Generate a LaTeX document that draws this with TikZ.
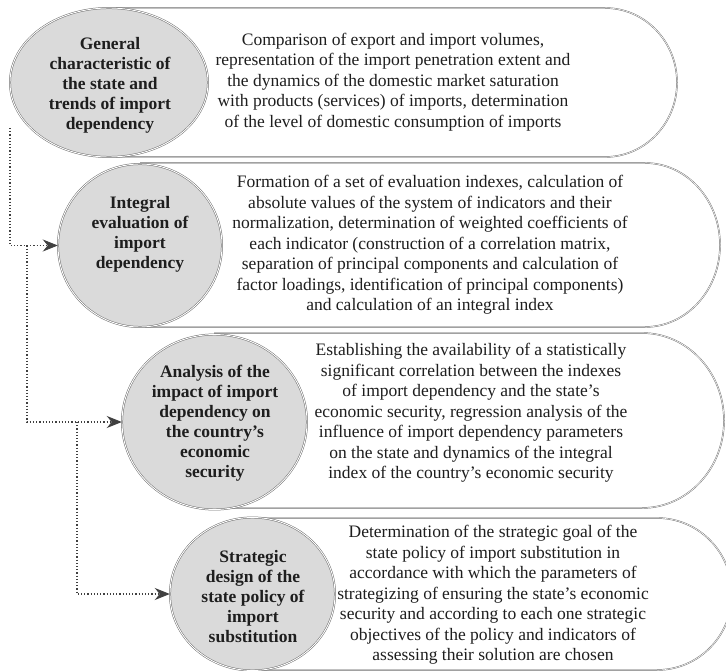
\documentclass[tikz,border=0pt]{standalone}
\usepackage{fontspec}
\setmainfont{Liberation Serif}
\usetikzlibrary{shapes.geometric,arrows.meta}
\definecolor{ellfill}{RGB}{218,218,218}
\definecolor{edge}{RGB}{110,110,110}
\definecolor{ink}{RGB}{30,30,30}
\tikzset{
  ellbox/.style={ellipse, draw=edge, line width=0.5pt, double=white, double distance=0.9pt, fill=ellfill, inner sep=0pt},
  boxline/.style={draw=edge, line width=0.45pt, double=white, double distance=0.6pt},
  ttl/.style={align=center, font=\fontsize{17.5}{20}\selectfont\bfseries, text=ink, inner sep=0pt},
  body/.style={align=center, font=\fontsize{17.5}{20.5}\selectfont, text=ink, inner sep=0pt},
  conn/.style={draw=ink!85, dotted, line width=1.2pt, -{Stealth[length=15pt,width=12pt,inset=5pt,line width=0.8pt]}},
}
\begin{document}
\begin{tikzpicture}[x=1pt,y=-1pt]
\useasboundingbox (0,0) rectangle (726,671);
\fill[white] (0,0) rectangle (726,671);
% boxes
\draw[boxline] (109,8) -- (605,8) arc[start angle=90, end angle=-90, x radius=72pt, y radius=74.5pt] -- (109,157);
\draw[boxline] (140,163) -- (645,163) arc[start angle=90, end angle=-90, x radius=75pt, y radius=82pt] -- (140,327);
\draw[boxline] (214,333) -- (642,333) arc[start angle=90, end angle=-90, x radius=82pt, y radius=87.5pt] -- (214,508);
\draw[boxline] (252,518) -- (657,518) arc[start angle=90, end angle=-90, x radius=75pt, y radius=76pt] -- (252,670);
% ellipses
\node[ellbox, minimum width=198pt, minimum height=149pt] (e1) at (109,82.5) {};
\node[ellbox, minimum width=164pt, minimum height=163pt] (e2) at (140,245.5) {};
\node[ellbox, minimum width=185pt, minimum height=175pt] (e3) at (214.5,422) {};
\node[ellbox, minimum width=165pt, minimum height=153pt] (e4) at (252.5,594) {};
% ellipse titles
\node[ttl] (t1) at (110,85) {General\\characteristic of\\the state and\\trends of import\\dependency};
\node[ttl] (t2) at (140,234) {Integral\\evaluation of\\import\\dependency};
\node[ttl] (t3) at (215,423) {Analysis of the\\impact of import\\dependency on\\the country’s\\economic\\security};
\node[ttl] (t4) at (253,597) {Strategic\\design of the\\state policy of\\import\\substitution};
% box texts
\node[body] (b1) at (393,82) {Comparison of export and import volumes,\\representation of the import penetration extent and\\the dynamics of the domestic market saturation\\with products (services) of imports, determination\\of the level of domestic consumption of imports};
\node[body] (b2) at (430,245) {Formation of a set of evaluation indexes, calculation of\\absolute values of the system of indicators and their\\normalization, determination of weighted coefficients of\\each indicator (construction of a correlation matrix,\\separation of principal components and calculation of\\factor loadings, identification of principal components)\\and calculation of an integral index};
\node[body] (b3) at (471,413) {Establishing the availability of a statistically\\significant correlation between the indexes\\of import dependency and the state’s\\economic security, regression analysis of the\\influence of import dependency parameters\\on the state and dynamics of the integral\\index of the country’s economic security};
\node[body] (b4) at (493,595) {Determination of the strategic goal of the\\state policy of import substitution in\\accordance with which the parameters of\\strategizing of ensuring the state’s economic\\security and according to each one strategic\\objectives of the policy and indicators of\\assessing their solution are chosen};
% connectors
\coordinate (s1) at (10,128);
\coordinate (j1) at (27,245.5);
\coordinate (j2) at (77,422);
\draw[conn] (s1) |- (e2.west);
\draw[conn] (j1) |- (e3.west);
\draw[conn] (j2) |- (e4.west);
\end{tikzpicture}
\end{document}
